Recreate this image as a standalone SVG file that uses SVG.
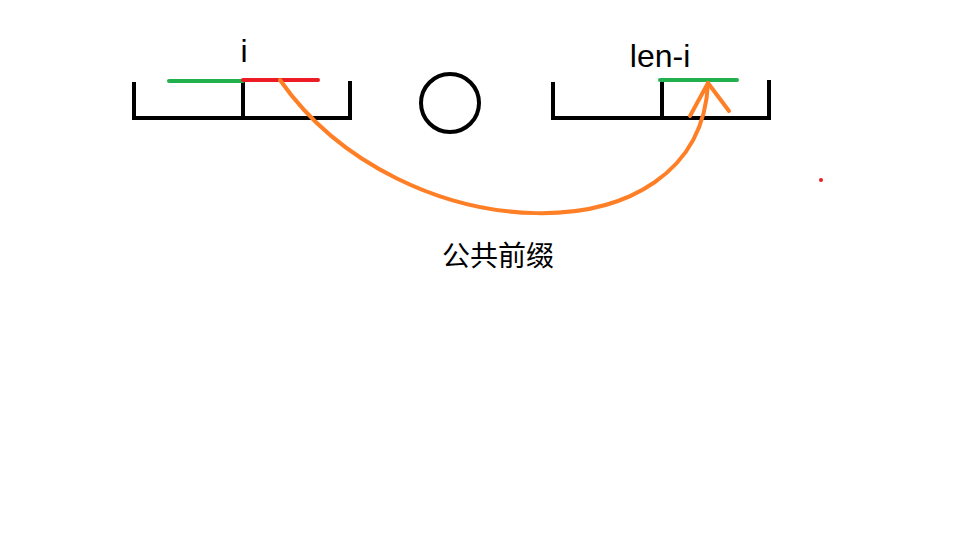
<svg xmlns="http://www.w3.org/2000/svg" width="960" height="540" viewBox="0 0 960 540">
<style>
.blk{fill:none;stroke:#000;stroke-width:4;stroke-linecap:square;stroke-linejoin:miter}
.seg{stroke-width:4;stroke-linecap:round;fill:none}
.org{fill:none;stroke:#FF7F27;stroke-width:4;stroke-linecap:round;stroke-linejoin:round}
.t{font-family:"Liberation Sans","Noto Sans CJK SC",sans-serif;font-size:32px;fill:#000;text-anchor:middle}
.c{font-family:"Noto Sans CJK SC",sans-serif;font-size:28px;fill:#000;text-anchor:middle}
</style>
<rect width="960" height="540" fill="#fff"/>
<g id="left-array">
<path class="blk" d="M134,84 V118 H350 V83 M243,81 V118"/>
<line class="seg" x1="169" y1="81" x2="243" y2="81" stroke="#22B14C"/>
<line class="seg" x1="243" y1="80" x2="318" y2="80" stroke="#ED1C24"/>
<text class="t" x="244" y="62">i</text>
</g>
<g id="circle">
<circle cx="450" cy="103" r="29" fill="none" stroke="#000" stroke-width="4"/>
</g>
<g id="right-array">
<path class="blk" d="M553,84 V118 H769 V82 M662,82 V118"/>
<line class="seg" x1="660" y1="80" x2="737" y2="80" stroke="#22B14C"/>
<text class="t" x="660" y="67">len-i</text>
</g>
<g id="connectors">
<path class="org" d="M280,80 C400,252 700,262 708,83"/>
<path class="org" d="M690,116 L708,83 L729,111"/>
</g>
<g id="label">
<text class="c" x="498" y="266">公共前缀</text>
</g>
<circle cx="821" cy="180" r="2" fill="#ED1C24"/>
</svg>
